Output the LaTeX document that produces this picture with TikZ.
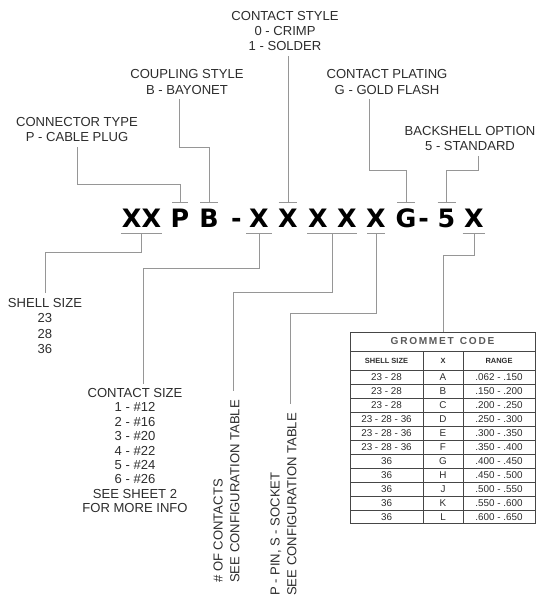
\documentclass[tikz,border=0pt]{standalone}
\usepackage{fontspec}
\setmainfont{Liberation Sans}
\newfontfamily\codefont{DejaVu Sans}
\usepackage{tikz}
\usetikzlibrary{calc}
\definecolor{leadgray}{RGB}{150, 150, 150}
\definecolor{inkgray}{RGB}{45, 45, 45}
\definecolor{rulegray}{RGB}{70, 70, 70}

\begin{document}
\begin{tikzpicture}[
    x=0.75pt, y=-0.75pt,
    lbl/.style={align=center, font=\fontsize{9.8}{11.6}\selectfont, text=inkgray},
    vlbl/.style={align=left, rotate=90, inner sep=0pt, text=inkgray,
                 font=\fontsize{9.8}{12.7}\selectfont},
    code/.style={font=\codefont\bfseries\fontsize{19}{19}\selectfont,
                 text height=13.85pt, text depth=0pt, inner xsep=0pt, inner ysep=4.3pt},
    lead/.style={draw=leadgray, line width=0.6pt},
    tick/.style={draw=leadgray, line width=0.9pt},
    grid/.style={draw=rulegray, line width=0.5pt},
    cell/.style={font=\fontsize{7.4}{8}\selectfont, text=inkgray, inner sep=0pt},
    head/.style={font=\bfseries\fontsize{5.6}{6}\selectfont, text=inkgray, inner sep=0pt}
]
\useasboundingbox (0,0) rectangle (540,598);

% part number
\node[code] (ss)    at (141.5,218) {XX};
\node[code] (ctp)   at (180,218)   {P};
\node[code] (cpl)   at (209,218)   {B};
\node[code] (dasha) at (236.5,218) {-};
\node[code] (csz)   at (259,218)   {X};
\node[code] (cst)   at (288,218)   {X};
\node[code] (nca)   at (318,218)   {X};
\node[code] (ncb)   at (347,218)   {X};
\node[code] (pin)   at (376,218)   {X};
\node[code] (plt)   at (406,218)   {G};
\node[code] (dashb) at (423.5,218) {-};
\node[code] (bks)   at (446.5,218) {5};
\node[code] (gmt)   at (474,218)   {X};

% labels above
\node[lbl] (lblcst) at (285,31)    {CONTACT STYLE\\0 - CRIMP\\1 - SOLDER};
\node[lbl] (lblcpl) at (187,82)    {COUPLING STYLE\\B - BAYONET};
\node[lbl] (lblplt) at (387,82)    {CONTACT PLATING\\G - GOLD FLASH};
\node[lbl] (lblct)  at (77,129.5)  {CONNECTOR TYPE\\P - CABLE PLUG};
\node[lbl] (lblbks) at (470,138.5) {BACKSHELL OPTION\\5 - STANDARD};

% labels below
\node[lbl] (lblss)  at (45,326)    {SHELL SIZE\\23\\28\\36};
\node[lbl, font=\fontsize{9.8}{10.8}\selectfont] (lblcsz) at (135,450.5)
    {CONTACT SIZE\\1 - \#12\\2 - \#16\\3 - \#20\\4 - \#22\\5 - \#24\\6 - \#26\\SEE SHEET 2\\FOR MORE INFO};
\node[vlbl, anchor=west] (lblnc)  at (226.5,583) {\# OF CONTACTS\\SEE CONFIGURATION TABLE};
\node[vlbl, anchor=west] (lblpin) at (283.5,596) {P - PIN, S - SOCKET\\SEE CONFIGURATION TABLE};

% over and under lines
\foreach \n/\w in {ctp/6, cpl/6.75, cst/7, plt/6.75, bks/6.75}
    \draw[tick] ([xshift=-\w pt]\n.north) -- ([xshift=\w pt]\n.north);
\foreach \n/\w in {ss/15.4, csz/9.4, pin/6.75, gmt/8.6}
    \draw[tick] ([xshift=-\w pt]\n.south) -- ([xshift=\w pt]\n.south);
\draw[tick] ([xshift=-8pt]nca.south) -- ([xshift=7.5pt]ncb.south);
\coordinate (ncmid) at ($(nca.south)!0.5!(ncb.south)$);

% leads
\draw[lead] (ctp.north) -- ++(0,-18) -| (lblct.south);
\draw[lead] (cpl.north) -- ++(0,-55) -| ([xshift=-6pt]lblcpl.south);
\draw[lead] (cst.north) -- (cst.north |- lblcst.south);
\draw[lead] (plt.north) -- ++(0,-32) -| ([xshift=-13.5pt]lblplt.south);
\draw[lead] (bks.north) -- ++(0,-32) -| ([xshift=6pt]lblbks.south);
\draw[lead] (ss.south) -- ++(0,19) -| (lblss.north);
\draw[lead] (csz.south) -- ++(0,35) -| ([xshift=6pt]lblcsz.north);
\draw[lead] (ncmid) -- ++(0,59) -| ([shift={(5pt,7pt)}]lblnc.east);
\draw[lead] (pin.south) -- ++(0,80) -| ([shift={(5pt,7pt)}]lblpin.east);

% grommet code table
\node[draw=rulegray, line width=1pt, minimum width=138.75pt, minimum height=143.25pt,
      inner sep=0pt, anchor=north west] (grommet) at (350,332) {};
\draw[lead] (gmt.south) -- ++(0,22) -| (grommet.north);
\draw[grid] (350,351) -- (535,351);
\draw[grid] (350,370) -- (535,370);
\foreach \r in {1,...,10}
    \draw[grid] (350,370+14*\r) -- (535,370+14*\r);
\draw[grid] (423,351) -- (423,523);
\draw[grid] (463,351) -- (463,523);
\node[font=\bfseries\fontsize{7.6}{8}\selectfont, text=black!65, inner sep=0pt]
    at (442.5,341.5) {G\,R\,O\,M\,M\,E\,T\, \,C\,O\,D\,E};
\node[head] at (386.5,360.5) {SHELL SIZE};
\node[head] at (443,360.5) {X};
\node[head] at (499,360.5) {RANGE};
\foreach \sz/\ltr/\rng [count=\i] in {
    23 - 28/A/.062 - .150, 23 - 28/B/.150 - .200, 23 - 28/C/.200 - .250,
    23 - 28 - 36/D/.250 - .300, 23 - 28 - 36/E/.300 - .350, 23 - 28 - 36/F/.350 - .400,
    36/G/.400 - .450, 36/H/.450 - .500, 36/J/.500 - .550, 36/K/.550 - .600, 36/L/.600 - .650} {
    \node[cell] at (386.5,363+14*\i) {\sz};
    \node[cell] at (443,363+14*\i)   {\ltr};
    \node[cell] at (499,363+14*\i)   {\rng};
}

\end{tikzpicture}
\end{document}
